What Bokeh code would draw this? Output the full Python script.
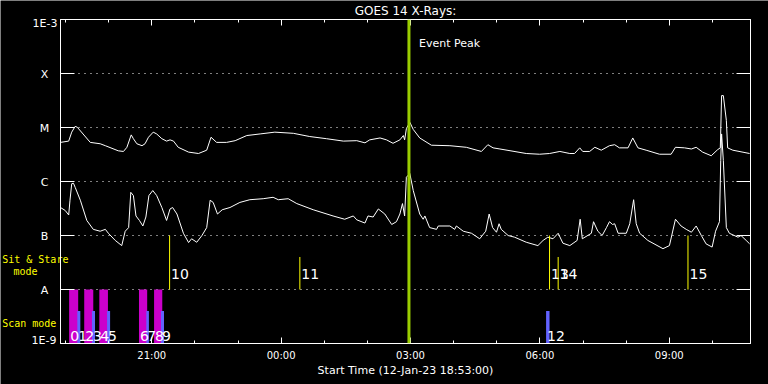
import numpy as np
from bokeh.plotting import figure
from bokeh.models import (Range1d, LinearAxis, LogAxis, FixedTicker, Span, Label,
                          ColumnDataSource, Grid, BasicTickFormatter)
from bokeh.core.properties import value
from bokeh.embed import file_html
from bokeh.resources import INLINE

# ---------------- data ----------------
START_HOUR = 18 + 53 / 60          # 12-Jan-23 18:53:00
SPAN_HOURS = 16.0

# GOES 14 long channel (1-8 A): hours since start, flux (W/m^2)
long_t = [0.00, 0.19, 0.26, 0.34, 0.39, 0.69, 0.92, 1.04, 1.34, 1.46, 1.54, 1.64, 1.69, 1.77,
          1.89, 1.96, 2.04, 2.15, 2.23, 2.35, 2.46, 2.54, 2.62, 2.73, 2.97, 3.20, 3.39, 3.49,
          3.62, 3.85, 4.05, 4.32, 4.63, 4.97, 5.40, 5.78, 6.17, 6.56, 6.87, 7.06, 7.17, 7.41,
          7.56, 7.71, 7.87, 7.95, 7.98, 8.02, 8.10, 8.18, 8.33, 8.60, 9.03, 9.41, 9.76, 9.91,
          10.03, 10.19, 10.80, 11.11, 11.34, 11.58, 11.81, 11.92, 12.04, 12.11, 12.27, 12.39,
          12.54, 12.73, 12.85, 12.96, 13.16, 13.27, 13.39, 13.58, 13.89, 14.16, 14.26, 14.47,
          14.63, 14.74, 14.89, 15.09, 15.24, 15.30, 15.33, 15.37, 15.44, 15.47, 15.59, 15.98]
long_flux = [5.3e-6, 5.6e-6, 8.2e-6, 1.05e-5, 1.01e-5, 5.3e-6, 5.0e-6, 4.6e-6, 3.7e-6, 3.6e-6,
             4.3e-6, 7.3e-6, 6.2e-6, 5.0e-6, 4.6e-6, 5.0e-6, 6.6e-6, 8.2e-6, 7.6e-6, 6.2e-6,
             5.6e-6, 5.9e-6, 5.6e-6, 4.3e-6, 3.5e-6, 3.3e-6, 3.8e-6, 6.6e-6, 5.3e-6, 5.3e-6,
             5.7e-6, 7.1e-6, 7.6e-6, 8.2e-6, 7.8e-6, 6.8e-6, 6.2e-6, 5.6e-6, 5.7e-6, 5.2e-6,
             5.9e-6, 6.4e-6, 5.9e-6, 5.1e-6, 5.9e-6, 7.1e-6, 5.9e-6, 9.5e-6, 1.25e-5, 9.2e-6,
             6.4e-6, 4.7e-6, 4.6e-6, 4.3e-6, 3.6e-6, 4.8e-6, 4.2e-6, 4.0e-6, 3.3e-6, 3.2e-6,
             3.3e-6, 3.6e-6, 3.3e-6, 3.3e-6, 4.2e-6, 3.6e-6, 3.6e-6, 4.3e-6, 3.8e-6, 4.6e-6,
             4.8e-6, 4.2e-6, 4.2e-6, 6.4e-6, 4.2e-6, 3.8e-6, 3.2e-6, 3.2e-6, 4.3e-6, 4.2e-6,
             4.0e-6, 4.3e-6, 3.5e-6, 3.0e-6, 3.9e-6, 4.2e-6, 3.9e-5, 3.9e-5, 1.35e-5, 4.2e-6,
             3.8e-6, 3.3e-6]

# GOES 14 short channel (0.5-4 A)
short_t = [0.00, 0.11, 0.19, 0.22, 0.26, 0.30, 0.34, 0.46, 0.61, 0.76, 0.92, 1.04, 1.11, 1.27,
           1.42, 1.50, 1.58, 1.63, 1.69, 1.75, 1.83, 1.91, 1.98, 2.05, 2.14, 2.23, 2.35, 2.46,
           2.54, 2.60, 2.70, 2.85, 2.97, 3.04, 3.16, 3.28, 3.39, 3.47, 3.54, 3.64, 3.75, 3.93,
           4.16, 4.39, 4.70, 4.93, 5.05, 5.28, 5.48, 5.86, 6.32, 6.59, 6.79, 6.87, 7.06, 7.13,
           7.25, 7.37, 7.52, 7.68, 7.79, 7.87, 7.93, 7.98, 8.02, 8.10, 8.18, 8.33, 8.41, 8.45,
           8.56, 8.72, 8.76, 9.03, 9.14, 9.18, 9.34, 9.53, 9.72, 9.86, 9.94, 10.02, 10.11, 10.17,
           10.22, 10.38, 10.53, 10.80, 11.07, 11.19, 11.30, 11.42, 11.54, 11.65, 11.81, 11.98,
           12.05, 12.10, 12.31, 12.36, 12.46, 12.56, 12.66, 12.73, 12.80, 12.85, 12.93, 13.12,
           13.20, 13.29, 13.35, 13.43, 13.62, 13.97, 14.12, 14.26, 14.39, 14.51, 14.63, 14.74,
           14.86, 14.97, 15.11, 15.19, 15.28, 15.31, 15.33, 15.37, 15.44, 15.51, 15.71, 15.78,
           15.90, 15.98]
short_flux = [3.3e-7, 2.9e-7, 2.4e-7, 4.5e-7, 9.1e-7, 9.3e-7, 7.8e-7, 4.5e-7, 1.9e-7, 1.3e-7,
              1.2e-7, 1.3e-7, 1.1e-7, 8.1e-8, 6.5e-8, 1.2e-7, 1.4e-7, 6.3e-7, 5.5e-7, 2.3e-7,
              1.9e-7, 1.5e-7, 2.2e-7, 5.5e-7, 6.8e-7, 5.5e-7, 3.3e-7, 1.9e-7, 3.1e-7, 3.3e-7,
              2.5e-7, 1.1e-7, 7.4e-8, 8.7e-8, 7.5e-8, 1.0e-7, 1.4e-7, 4.5e-7, 4.1e-7, 2.5e-7,
              3.0e-7, 3.3e-7, 4.1e-7, 4.6e-7, 4.8e-7, 5.1e-7, 4.6e-7, 4.8e-7, 3.9e-7, 3.0e-7,
              2.3e-7, 2.0e-7, 2.3e-7, 1.95e-7, 1.7e-7, 2.3e-7, 2.2e-7, 3.1e-7, 2.5e-7, 1.6e-7,
              1.8e-7, 2.5e-7, 3.9e-7, 2.3e-7, 1.2e-6, 1.4e-6, 6.8e-7, 2.5e-7, 2.0e-7, 2.3e-7,
              1.4e-7, 1.3e-7, 1.5e-7, 1.5e-7, 1.3e-7, 1.5e-7, 1.2e-7, 1.1e-7, 8.7e-8, 1.2e-7,
              2.5e-7, 1.4e-7, 1.15e-7, 1.65e-7, 1.3e-7, 1.0e-7, 9.3e-8, 7.5e-8, 6.5e-8, 8.1e-8,
              9.3e-8, 8.7e-8, 1.1e-7, 7.2e-8, 6.5e-8, 8.1e-8, 2.0e-7, 8.7e-8, 1.1e-7, 1.8e-7,
              1.2e-7, 1.0e-7, 1.4e-7, 1.8e-7, 1.6e-7, 1.65e-7, 1.1e-7, 1.1e-7, 1.65e-7, 4.6e-7,
              1.65e-7, 1.1e-7, 8.1e-8, 5.7e-8, 6.5e-8, 2.0e-7, 1.5e-7, 1.3e-7, 1.15e-7, 1.5e-7,
              1.0e-7, 7.0e-8, 6.1e-8, 1.2e-7, 1.8e-7, 2.45e-6, 7.6e-6, 2.45e-6, 1.4e-7, 1.1e-7,
              9.3e-8, 1.0e-7, 8.1e-8, 7.0e-8]

goes_levels = [1e-9, 1e-8, 1e-7, 1e-6, 1e-5, 1e-4, 1e-3]
goes_level_labels = ["1E-9", "A", "B", "C", "M", "X", "1E-3"]

time_tick_hours = [21, 24, 27, 30, 33]
time_tick_labels = ["21:00", "00:00", "03:00", "06:00", "09:00"]
time_minor_hours = list(range(19, 35))

event_peak_t = 8.08

# Scan-mode observations (hours since start)
scan_ids = ["0", "1", "2", "3", "4", "5", "6", "7", "8", "9", "12"]
scan_start = [0.20, 0.39, 0.55, 0.73, 0.90, 1.08, 1.82, 1.99, 2.17, 2.33, 11.26]
scan_end = [0.41, 0.46, 0.76, 0.80, 1.10, 1.15, 2.01, 2.05, 2.36, 2.40, 11.34]
scan_kind = ["long", "short", "long", "short", "long", "short", "long", "short", "long",
             "short", "short"]

# Sit & stare observations
ss_ids = ["10", "11", "13", "14", "15"]
ss_t = [2.53, 5.55, 11.34, 11.54, 14.55]
ss_top = [1e-7, 4e-8, 1e-7, 4e-8, 1e-7]

# ---------------- layout constants ----------------
W, H = 768, 384
BL, BR, BT, BB = 60, 18, 19, 41          # frame borders (px)
X0 = START_HOUR
Y_LO, Y_HI = 1e-9, 1e-3
FONT = "DejaVu Sans"
MONO = "DejaVu Sans Mono"

# ---------------- main figure ----------------
p = figure(width=W, height=H, output_backend="svg", toolbar_location=None,
           x_range=Range1d(X0, X0 + SPAN_HOURS), y_range=Range1d(Y_LO, Y_HI),
           y_axis_type="log", x_axis_location=None, y_axis_location=None,
           min_border_left=BL, min_border_right=BR, min_border_top=BT, min_border_bottom=BB,
           background_fill_alpha=0, border_fill_alpha=0,
           outline_line_color="white", outline_line_width=1)
p.styles = {"position": "absolute", "left": "0px", "top": "0px"}
p.center = [c for c in p.center if not isinstance(c, Grid)]


def style_time_axis(ax, labels):
    ax.ticker = FixedTicker(ticks=time_tick_hours, minor_ticks=time_minor_hours)
    ax.axis_line_color = "white"
    ax.major_tick_line_color = "white"
    ax.minor_tick_line_color = "white"
    ax.major_tick_in = 6
    ax.major_tick_out = 0
    ax.minor_tick_in = 3
    ax.minor_tick_out = 0
    ax.major_label_text_font = FONT
    if labels:
        ax.major_label_overrides = {h: l for h, l in zip(time_tick_hours, time_tick_labels)}
        ax.major_label_text_font_size = "10px"
        ax.major_label_text_color = "white"
        ax.major_label_standoff = 6
    else:
        ax.major_label_text_font_size = "1px"
        ax.major_label_text_color = None
        ax.major_label_standoff = 0


xb = LinearAxis()
style_time_axis(xb, True)
xb.axis_label = "Start Time (12-Jan-23 18:53:00)"
xb.axis_label_text_font = FONT
xb.axis_label_text_font_size = "11px"
xb.axis_label_text_font_style = "normal"
xb.axis_label_text_color = "white"
xb.axis_label_standoff = 0
p.add_layout(xb, "below")

xt = LinearAxis()
style_time_axis(xt, False)
p.add_layout(xt, "above")

for side in ("left", "right"):
    ya = LogAxis(ticker=FixedTicker(ticks=goes_levels), formatter=BasicTickFormatter())
    ya.axis_line_color = "white"
    ya.major_tick_line_color = "white"
    ya.major_tick_in = 14
    ya.major_tick_out = 0
    ya.minor_tick_in = 0
    ya.minor_tick_out = 0
    ya.major_label_text_font_size = "1px"
    ya.major_label_text_color = None
    ya.major_label_standoff = 0
    p.add_layout(ya, side)

p.add_layout(Grid(dimension=1, ticker=FixedTicker(ticks=goes_levels[1:-1]),
                  grid_line_color="white", grid_line_dash="1 5", grid_line_width=1))

# curves
p.line(X0 + np.array(long_t), long_flux, line_color="white", line_width=1)
p.line(X0 + np.array(short_t), short_flux, line_color="white", line_width=1)

# scan mode bars
kind_top = {"long": 1e-8, "short": 4e-9}
kind_color = {"long": "#cc00cc", "short": "#6262ff"}
for k in ("long", "short"):
    idx = [i for i, kk in enumerate(scan_kind) if kk == k]
    p.quad(left=[X0 + scan_start[i] for i in idx], right=[X0 + scan_end[i] for i in idx],
           bottom=Y_LO, top=[kind_top[k]] * len(idx),
           fill_color=kind_color[k], line_color=None)
p.text(x=X0 + np.array(scan_start), y=[Y_LO] * len(scan_ids), text=scan_ids,
       x_offset=1, y_offset=-3, text_color="white", text_font=value(FONT),
       text_font_size="14px", text_baseline="bottom", text_align="left")

# sit & stare lines
ss_x = X0 + np.array(ss_t)
p.segment(x0=ss_x, y0=[1e-8] * len(ss_t), x1=ss_x, y1=ss_top, line_color="#ffff00",
          line_width=1)
p.text(x=ss_x, y=[1e-8] * len(ss_t), text=ss_ids, x_offset=1.5, y_offset=-11,
       text_color="white", text_font=value(FONT), text_font_size="14px",
       text_baseline="bottom", text_align="left")

# event peak
p.add_layout(Span(location=X0 + event_peak_t, dimension="height", line_color="#9acd00",
                  line_width=3))
p.add_layout(Label(x=X0 + event_peak_t, y=Y_HI, x_offset=10, y_offset=-23.5, text="Event Peak",
                   text_color="white", text_font=FONT, text_font_size="11px",
                   text_baseline="middle", text_align="left"))

# ---------------- background figure (whole canvas is its frame) ----------------
# same scales as the main frame, extended over the page borders
px_per_hour = (W - BL - BR) / SPAN_HOURS
dec_per_px = (np.log10(Y_HI) - np.log10(Y_LO)) / (H - BT - BB)
bg = figure(width=W, height=H, output_backend="svg", toolbar_location=None,
            x_range=Range1d(X0 - BL / px_per_hour, X0 + SPAN_HOURS + BR / px_per_hour),
            y_range=Range1d(10 ** (np.log10(Y_LO) - BB * dec_per_px),
                            10 ** (np.log10(Y_HI) + BT * dec_per_px)),
            y_axis_type="log", x_axis_location=None, y_axis_location=None,
            min_border=0, background_fill_color="black", border_fill_color="black",
            outline_line_color=None)
bg.styles = {"position": "absolute", "left": "0px", "top": "0px"}
bg.center = [c for c in bg.center if not isinstance(c, Grid)]

# title
bg.add_layout(Label(x=X0 + SPAN_HOURS / 2, y=Y_HI, y_offset=9, text="GOES 14 X-Rays:",
                    text_color="white", text_font=FONT, text_font_size="12px",
                    text_baseline="middle", text_align="center"))

# y level labels
for lev, lab in zip(goes_levels, goes_level_labels):
    if lab == "1E-3":
        lbl = Label(x=X0, y=lev, x_offset=-3, y_offset=-4, text=lab, text_align="right")
    elif lab == "1E-9":
        lbl = Label(x=X0, y=lev, x_offset=-4, y_offset=3, text=lab, text_align="right")
    else:
        lbl = Label(x=X0, y=lev, x_offset=-16, y_offset=-1, text=lab, text_align="center")
    lbl.text_color = "white"
    lbl.text_font = FONT
    lbl.text_font_size = "11px"
    lbl.text_baseline = "middle"
    bg.add_layout(lbl)

# mode labels
for txt, xo, yo in (("Sit & Stare", -58.3, 30), ("mode", -47, 18), ("Scan mode", -58.3, -34.3)):
    bg.add_layout(Label(x=X0, y=1e-8, x_offset=xo, y_offset=yo, text=txt, text_color="#ffff00",
                        text_font=MONO, text_font_size="10px", text_baseline="middle",
                        text_align="left"))

open("out.html", "w").write(file_html([bg, p], INLINE))
